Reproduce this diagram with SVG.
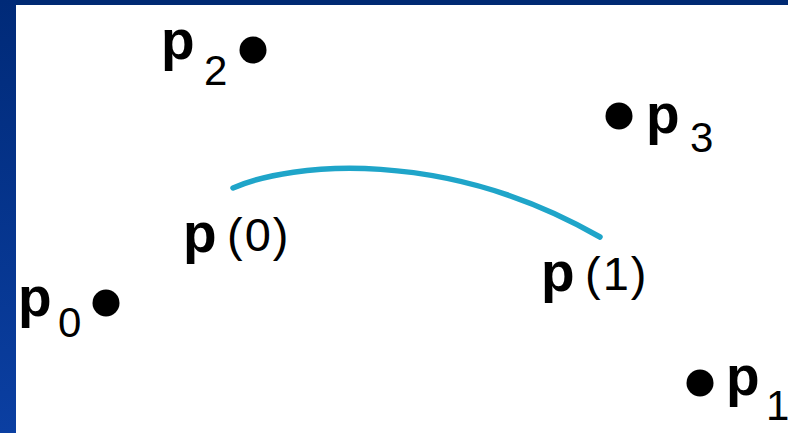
<svg xmlns="http://www.w3.org/2000/svg" width="788" height="433" viewBox="0 0 788 433">
<defs>
<linearGradient id="side" x1="0" y1="0" x2="0" y2="1">
<stop offset="0" stop-color="#002a78"/>
<stop offset="1" stop-color="#0b3fa2"/>
</linearGradient>
<style>
.pb{font-family:"Liberation Sans",Arial,sans-serif;font-weight:bold;font-size:55px;fill:#000}
.sub{font-family:"Liberation Sans",Arial,sans-serif;font-weight:normal;font-size:42px;fill:#000}
.arg{font-family:"Liberation Sans",Arial,sans-serif;font-weight:normal;font-size:47px;letter-spacing:2px;fill:#000}
.dot{fill:#000}
.curve{fill:none;stroke:#1fa5c9;stroke-width:5.5;stroke-linecap:round}
</style>
</defs>
<rect x="0" y="0" width="788" height="433" fill="#ffffff"/>
<rect x="0" y="0" width="788" height="5" fill="#002a73"/>
<rect x="0" y="0" width="16" height="433" fill="url(#side)"/>
<g id="connectors">
<path class="curve" d="M233,188 C292,162 445,148 600,237"/>
</g>
<g id="p0">
<text class="pb" x="18" y="316">p</text>
<text class="sub" x="58" y="337">0</text>
<circle class="dot" cx="106" cy="303" r="13.5"/>
</g>
<g id="p1">
<circle class="dot" cx="700" cy="383" r="13.5"/>
<text class="pb" x="726" y="395">p</text>
<text class="sub" x="766" y="420">1</text>
</g>
<g id="p2">
<text class="pb" x="161" y="59">p</text>
<text class="sub" x="204" y="85">2</text>
<circle class="dot" cx="253" cy="50" r="13.5"/>
</g>
<g id="p3">
<circle class="dot" cx="619" cy="116" r="13.5"/>
<text class="pb" x="646" y="133">p</text>
<text class="sub" x="690" y="152">3</text>
</g>
<g id="label-p0">
<text class="pb" x="183" y="252">p</text>
<text class="arg" x="227" y="251">(0)</text>
</g>
<g id="label-p1">
<text class="pb" x="541" y="291">p</text>
<text class="arg" x="585" y="290">(1)</text>
</g>
</svg>
